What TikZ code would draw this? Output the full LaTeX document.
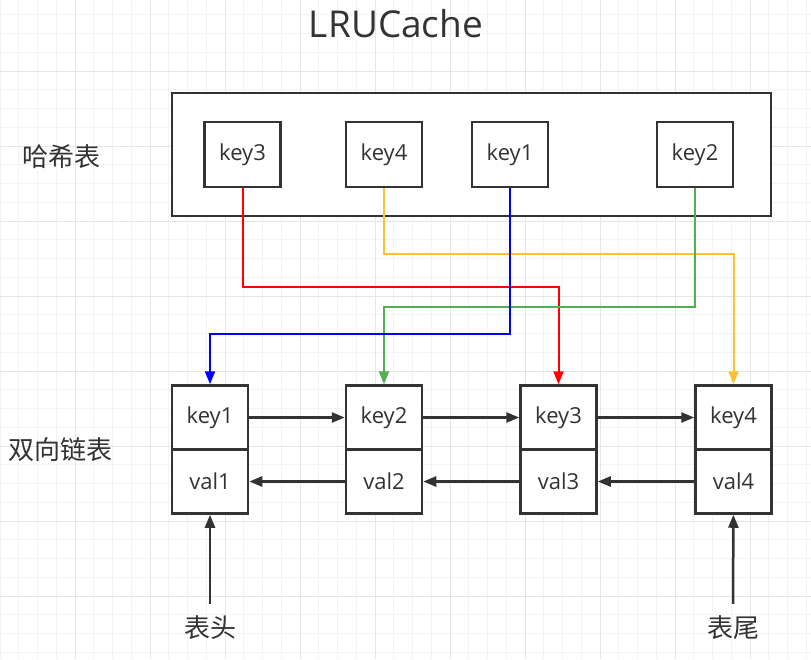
\documentclass[tikz,border=0pt]{standalone}
\usepackage{fontspec}
\setmainfont{Open Sans}
\newfontfamily\cjk{Noto Sans CJK SC}
\usetikzlibrary{arrows.meta}
\definecolor{ink}{HTML}{333333}
\definecolor{gridminor}{HTML}{F3F3F3}
\definecolor{gridmajor}{HTML}{E6E6E6}
\definecolor{wirered}{HTML}{FF0000}
\definecolor{wireyellow}{HTML}{FFC12E}
\definecolor{wireblue}{HTML}{0000FF}
\definecolor{wiregreen}{HTML}{55AD55}

\begin{document}
\begin{tikzpicture}[x=1pt, y=-1pt,
        cell/.style={draw=ink, line width=2.5pt, fill=white, inner sep=0pt,
            minimum width=76pt, minimum height=64pt, text=ink,
            font=\fontsize{22}{22}\selectfont},
        frame/.style={draw=ink, line width=2.5pt, fill=white, inner sep=0pt},
        lbl/.style={text=ink, font=\cjk\fontsize{26}{26}\selectfont},
        endlbl/.style={lbl, inner ysep=12pt},
        wire/.style={line width=2pt, -{Triangle[length=13pt, width=10pt]}},
        link/.style={draw=ink, line width=2.5pt, -{Triangle[length=13pt, width=10pt]}}]
    \useasboundingbox (0,0) rectangle (811,659);
    \fill[white] (0,0) rectangle (811,659);

    % grid
    \foreach \i in {0,...,43}
        \draw[gridminor, line width=1pt] (\i*18.75,0) -- (\i*18.75,659);
    \foreach \i in {0,...,34}
        \draw[gridminor, line width=1pt] (0,14.75+\i*18.75) -- (811,14.75+\i*18.75);
    \foreach \i in {1,...,10}
        \draw[gridmajor, line width=1pt] (\i*75,0) -- (\i*75,659);
    \foreach \i in {1,...,8}
        \draw[gridmajor, line width=1pt] (0,-4+\i*75) -- (811,-4+\i*75);

    \node[text=ink, font=\fontsize{37}{37}\selectfont] (title) at (396,24) {LRUCache};

    % hash table
    \node[lbl] (hashlbl) at (61,157) {哈希表};
    \node[frame, minimum width=599pt, minimum height=123pt] (hash) at (471.5,154.5) {};
    \node[cell, minimum height=65pt] (hk3) at (242.5,154.5) {key3};
    \node[cell, minimum height=65pt] (hk4) at (384,154.5) {key4};
    \node[cell, minimum height=65pt] (hk1) at (510,154.5) {key1};
    \node[cell, minimum height=65pt] (hk2) at (695,154.5) {key2};

    % doubly linked list
    \node[lbl] (listlbl) at (61,450) {双向链表};
    \node[cell] (k1) at (210,417.5) {key1};
    \node[cell] (v1) at (210,481.5) {val1};
    \node[cell] (k2) at (384,417.5) {key2};
    \node[cell] (v2) at (384,481.5) {val2};
    \node[cell] (k3) at (558.5,417.5) {key3};
    \node[cell] (v3) at (558.5,481.5) {val3};
    \node[cell] (k4) at (733.5,417.5) {key4};
    \node[cell] (v4) at (733.5,481.5) {val4};

    \draw[link] (k1) -- (k2);
    \draw[link] (k2) -- (k3);
    \draw[link] (k3) -- (k4);
    \draw[link] (v2) -- (v1);
    \draw[link] (v3) -- (v2);
    \draw[link] (v4) -- (v3);

    % hash -> list
    \draw[wire, wireyellow] (hk4.south) -- ++(0,66) -| (k4.north);
    \draw[wire, wirered] (hk3.south) -- ++(0,99) -| (k3.north);
    \draw[wire, wiregreen] (hk2.south) -- ++(0,119) -| (k2.north);
    \draw[wire, wireblue] (hk1.south) -- ++(0,146) -| (k1.north);

    \node[endlbl] (head) at (210,628) {表头};
    \node[endlbl] (tail) at (733,628) {表尾};
    \draw[link] (head) -- (v1);
    \draw[link] (tail) -- (v4);
\end{tikzpicture}
\end{document}
